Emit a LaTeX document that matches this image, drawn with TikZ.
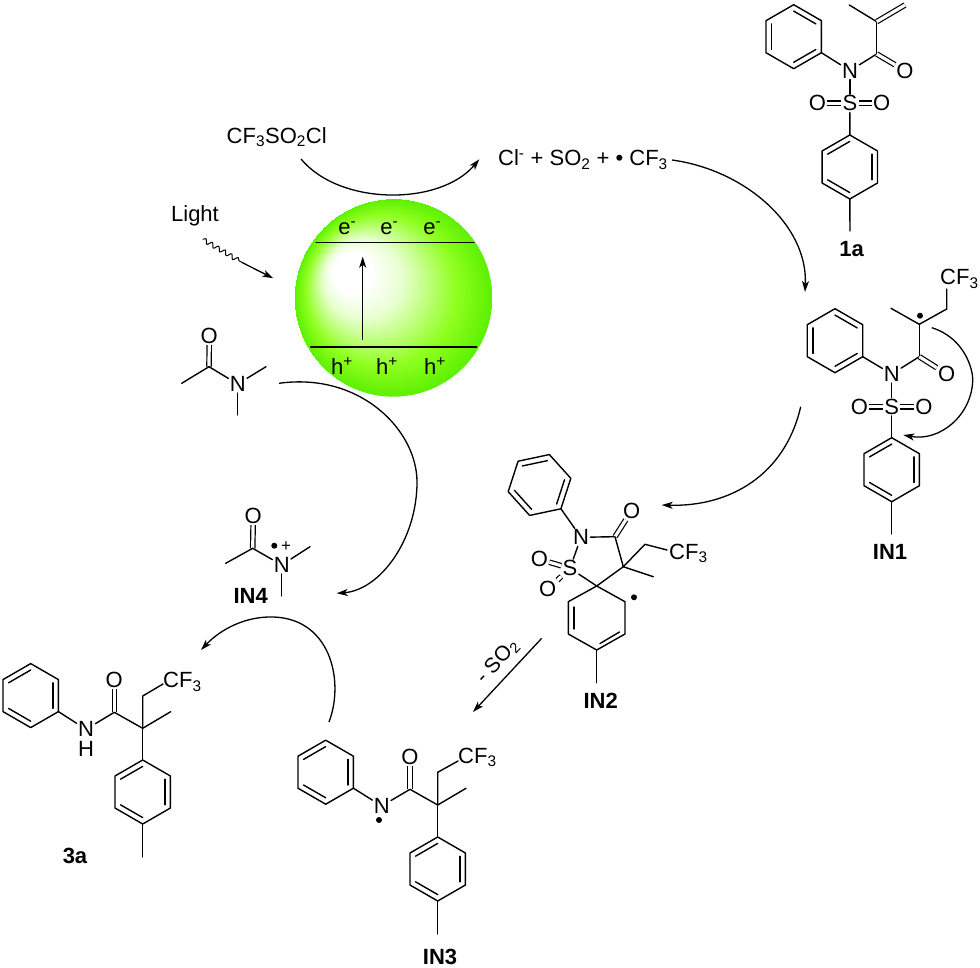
\documentclass[tikz,border=0pt]{standalone}
\usepackage{fontspec}
\setmainfont{Liberation Sans}
\usetikzlibrary{arrows.meta,calc,decorations.pathmorphing}
\definecolor{sphA}{HTML}{E8FFD0}
\definecolor{sphB}{HTML}{90FF20}
\definecolor{sphC}{HTML}{5CF000}
\pgfdeclareradialshading{sphereshade}{\pgfpoint{-13bp}{8bp}}{%
  color(0bp)=(white);color(5bp)=(white);color(10bp)=(sphA);color(19bp)=(sphB);color(25bp)=(sphC)}
\tikzset{
  bond/.style={line width=1.4pt,black,line cap=round,line join=round},
  dbl/.style={double=white,double distance=3.2pt,line width=1.2pt,black},
  atom/.style={inner sep=1.2pt,font=\fontsize{22}{24}\selectfont},
  txt/.style={inner sep=0pt,font=\fontsize{22}{24}\selectfont},
  lab/.style={inner sep=0pt,font=\fontsize{22}{24}\selectfont\bfseries},
  small/.style={inner sep=0pt,font=\fontsize{21}{24}\selectfont},
  rad/.style={circle,fill=black,inner sep=0pt,minimum size=6pt},
  arc/.style={line width=1.3pt,black,-{Stealth[length=11pt,width=7pt,inset=3pt]}},
}
\newcommand{\benz}[4]{%
  \coordinate (#1) at (#2,#3);
  \foreach \k in {1,...,6}{\path (#1) ++({#4+60*(\k-1)}:32pt) coordinate (#1-\k);}
  \draw[bond] (#1-1)--(#1-2)--(#1-3)--(#1-4)--(#1-5)--(#1-6)--cycle;
  \foreach \a/\b in {1/2,3/4,5/6}{\draw[bond] ($(#1)!.8!(#1-\a)$) -- ($(#1)!.8!(#1-\b)$);}
}
\begin{document}
\begin{tikzpicture}[x=1pt,y=-1pt]
\useasboundingbox (0,0) rectangle (980,968);
% photocatalyst sphere
\coordinate (sph) at (393.3,297.7);
\shade[shading=sphereshade] (sph) circle[radius=99pt];
\coordinate (cbL) at (316,242.3); \coordinate (cbR) at (474,242.3);
\coordinate (vbL) at (310.7,347); \coordinate (vbR) at (476.7,347);
\coordinate (exA) at (362.7,340); \coordinate (exB) at (362.7,256.7);
\draw[bond] (cbL)--(cbR);
\draw[bond] (vbL)--(vbR);
\draw[arc] (exA)--(exB);
\node[txt] (e1) at (347.3,228) {e\textsuperscript{-}};
\node[txt] (e2) at (389.3,228) {e\textsuperscript{-}};
\node[txt] (e3) at (432.3,228) {e\textsuperscript{-}};
\node[txt] (h1) at (342,366) {h\textsuperscript{+}};
\node[txt] (h2) at (387,366) {h\textsuperscript{+}};
\node[txt] (h3) at (435,366) {h\textsuperscript{+}};
% light
\node[txt] (light) at (195,215.7) {Light};
\coordinate (lA) at (202.7,239.3); \coordinate (lB) at (241.7,262.3); \coordinate (lC) at (273.3,278.3);
\draw[line width=1pt,decorate,decoration={snake,amplitude=2.2pt,segment length=7.5pt}] (lA)--(lB);
\draw[arc] (lB)--(lC);
% reagent and products
\node[txt] (tf) at (276.7,137) {CF$_{\mathrm{3}}$SO$_{\mathrm{2}}$Cl};
\node[txt,anchor=west] (prod) at (498,159.5) {Cl\textsuperscript{-} + SO$_{\mathrm{2}}$ + • CF$_{\mathrm{3}}$};
\coordinate (a1s) at (301,159); \coordinate (a1e) at (479.3,159.3);
\draw[arc] (a1s) .. controls (340,206) and (440,206) .. (a1e);
\coordinate (a2s) at (672,160); \coordinate (a2e) at (805,292);
\draw[arc] (a2s) .. controls (745,170) and (808,225) .. (a2e);
% 1a
\benz{p1}{793.7}{36.7}{30}
\benz{t1}{849.8}{167}{90}
\node[atom] (n1) at (850,70.7) {N};
\node[atom] (s1) at (850,103.3) {S};
\node[atom] (o1a) at (817.3,103.3) {O};
\node[atom] (o1b) at (881.7,103.3) {O};
\node[atom] (o1c) at (905,70.7) {O};
\coordinate (c1) at (876.7,54); \coordinate (ca1) at (876.7,21.7);
\coordinate (me1) at (849.3,5); \coordinate (ch21) at (905,5); \coordinate (me1b) at (850,231);
\draw[bond] (p1-6)--(n1); \draw[bond] (n1)--(c1); \draw[bond] (c1)--(ca1);
\draw[bond] (ca1)--(me1); \draw[dbl] (ca1)--(ch21); \draw[dbl] (c1)--(o1c);
\draw[bond] (n1)--(s1); \draw[dbl] (s1)--(o1a); \draw[dbl] (s1)--(o1b);
\draw[bond] (s1)--(t1-1); \draw[bond] (t1-4)--(me1b);
\node[lab] (l1a) at (851.7,249) {1a};
% IN1
\benz{p2}{835}{340.7}{30}
\benz{t2}{891.7}{469.7}{90}
\node[atom] (n2) at (891.7,374) {N};
\node[atom] (s2) at (891.7,406.7) {S};
\node[atom] (o2a) at (859.3,406.7) {O};
\node[atom] (o2b) at (924,406.7) {O};
\node[atom] (o2c) at (946.7,374) {O};
\coordinate (c2) at (919.3,356.7); \coordinate (ca2) at (919.3,324.3);
\coordinate (me2) at (891,308.3); \coordinate (ch22) at (946.7,309); \coordinate (me2b) at (891.7,534);
\node[txt,anchor=west] (cf2) at (940,279) {CF$_{\mathrm{3}}$};
\coordinate (cf2b) at (946.7,289);
\draw[bond] (p2-6)--(n2); \draw[bond] (n2)--(c2); \draw[bond] (c2)--(ca2);
\draw[bond] (ca2)--(me2); \draw[bond] (ca2)--(ch22)--(cf2b); \draw[dbl] (c2)--(o2c);
\draw[bond] (n2)--(s2); \draw[dbl] (s2)--(o2a); \draw[dbl] (s2)--(o2b);
\draw[bond] (s2)--(t2-1); \draw[bond] (t2-4)--(me2b);
\node[rad] (r2) at (920,315.7) {};
\node[lab] (l1) at (890,552) {IN1};
\coordinate (a3s) at (931.7,327.7); \coordinate (a3e) at (903.3,435);
\draw[arc] (a3s) .. controls (965,338) and (973,370) .. (972.7,380) .. controls (972,415) and (940,442) .. (a3e);
\coordinate (a4s) at (800.7,406.7); \coordinate (a4e) at (661.7,505);
\draw[arc] (a4s) .. controls (785,475) and (730,507) .. (a4e);
% IN2
\benz{p3}{539.5}{485}{-48}
\node[atom] (n3) at (581,537.3) {N};
\node[atom] (s3) at (570,568.3) {S};
\node[atom] (o3a) at (539.3,559.3) {O};
\node[atom] (o3b) at (547.7,589.3) {O};
\node[atom] (o3c) at (631.7,510.7) {O};
\coordinate (c3) at (615,536.7); \coordinate (q3) at (623.3,566.7); \coordinate (ch23) at (645,544.3);
\coordinate (me3) at (653.3,576.7); \coordinate (sp3) at (596.7,586);
\coordinate (b1) at (625,601.7); \coordinate (b2) at (625,634); \coordinate (b3) at (596.7,650);
\coordinate (b4) at (568.3,634); \coordinate (b5) at (568.3,601.7); \coordinate (me3b) at (596.7,682.7);
\coordinate (cf3b) at (667,550);
\node[txt,anchor=west] (cf3) at (669,553.5) {CF$_{\mathrm{3}}$};
\draw[bond] (p3-1)--(n3); \draw[bond] (n3)--(c3); \draw[dbl] (c3)--(o3c); \draw[bond] (c3)--(q3);
\draw[bond] (q3)--(ch23)--(cf3b); \draw[bond] (q3)--(me3); \draw[bond] (q3)--(sp3);
\draw[bond] (n3)--(s3); \draw[bond] (s3)--(sp3); \draw[dbl] (s3)--(o3a); \draw[dbl] (s3)--(o3b);
\draw[bond] (sp3)--(b1)--(b2)--(b3)--(b4)--(b5)--cycle;
\draw[bond] (574,607) -- (574,629);
\draw[bond] (600,643.5) -- (619.5,632);
\draw[bond] (b3)--(me3b);
\node[rad] (r3) at (634,597.3) {};
\node[lab] (l2) at (600.7,700.7) {IN2};
% SO2 loss
\coordinate (a5s) at (541.7,638.3); \coordinate (a5e) at (473,712);
\draw[arc] (a5s)--(a5e);
\node[small,rotate=47] (so2) at (497.5,661.5) {- SO$_{\mathrm{2}}$};
% IN3
\benz{p4}{325.7}{772.2}{90}
\benz{t4}{437.7}{869}{90}
\node[atom] (n4) at (381.7,806) {N};
\node[atom] (o4) at (410,756.7) {O};
\coordinate (c4) at (410,789.3); \coordinate (q4) at (437.7,805); \coordinate (ch24) at (437.7,772.3);
\coordinate (me4) at (466,788.3); \coordinate (me4b) at (437.7,934); \coordinate (cf4b) at (458,761);
\node[txt,anchor=west] (cf4) at (458,757.5) {CF$_{\mathrm{3}}$};
\draw[bond] (p4-5)--(n4); \draw[bond] (n4)--(c4); \draw[dbl] (c4)--(o4); \draw[bond] (c4)--(q4);
\draw[bond] (q4)--(ch24)--(cf4b); \draw[bond] (q4)--(me4); \draw[bond] (q4)--(t4-1); \draw[bond] (t4-4)--(me4b);
\node[rad] (r4) at (379,820) {};
\node[lab] (l3) at (440,957) {IN3};
% 3a
\benz{p5}{30.7}{695.6}{90}
\benz{t5}{142.7}{792}{90}
\node[atom] (n5) at (86,729.3) {N};
\node[atom] (h5) at (86,749.3) {H};
\node[atom] (o5) at (114.3,680) {O};
\coordinate (c5) at (114.3,712.3); \coordinate (q5) at (142.7,728.3); \coordinate (ch25) at (142.7,696);
\coordinate (me5) at (170.7,711.7); \coordinate (me5b) at (142.7,857); \coordinate (cf5b) at (163,684);
\node[txt,anchor=west] (cf5) at (163,682) {CF$_{\mathrm{3}}$};
\draw[bond] (p5-5)--(n5); \draw[bond] (n5)--(c5); \draw[dbl] (c5)--(o5); \draw[bond] (c5)--(q5);
\draw[bond] (q5)--(ch25)--(cf5b); \draw[bond] (q5)--(me5); \draw[bond] (q5)--(t5-1); \draw[bond] (t5-4)--(me5b);
\node[lab] (l4) at (75,856) {3a};
% DMA
\node[atom] (n6) at (237.7,384) {N};
\node[atom] (o6) at (209.3,336) {O};
\coordinate (c6) at (209,366.7); \coordinate (me6a) at (181.7,383.3); \coordinate (me6b) at (266,366.7); \coordinate (me6c) at (237.7,415);
\draw[dbl] (c6)--(o6); \draw[bond] (c6)--(me6a); \draw[bond] (c6)--(n6); \draw[bond] (n6)--(me6b); \draw[bond] (n6)--(me6c);
% IN4
\node[atom] (n7) at (281.7,565) {N};
\node[atom] (o7) at (253.3,516) {O};
\coordinate (c7) at (252.7,548.3); \coordinate (me7a) at (225.7,563.3); \coordinate (me7b) at (310,546.7); \coordinate (me7c) at (281.7,596);
\draw[dbl] (c7)--(o7); \draw[bond] (c7)--(me7a); \draw[bond] (c7)--(n7); \draw[bond] (n7)--(me7b); \draw[bond] (n7)--(me7c);
\node[rad] (r7) at (274.3,545.7) {};
\node[small,font=\fontsize{17}{20}\selectfont] (plus7) at (286,546.7) {+};
\node[lab] (l5) at (250.7,596) {IN4};
% cycle arrows
\coordinate (a6s) at (279,383.3); \coordinate (a6e) at (336.7,593.3);
\draw[arc] (a6s) .. controls (360,372) and (417,430) .. (417,482) .. controls (417,540) and (380,590) .. (a6e);
\coordinate (a7s) at (329,722); \coordinate (a7e) at (201,650);
\draw[arc] (a7s) .. controls (345,680) and (330,615) .. (268,617) .. controls (240,618) and (218,632) .. (a7e);
\end{tikzpicture}
\end{document}
